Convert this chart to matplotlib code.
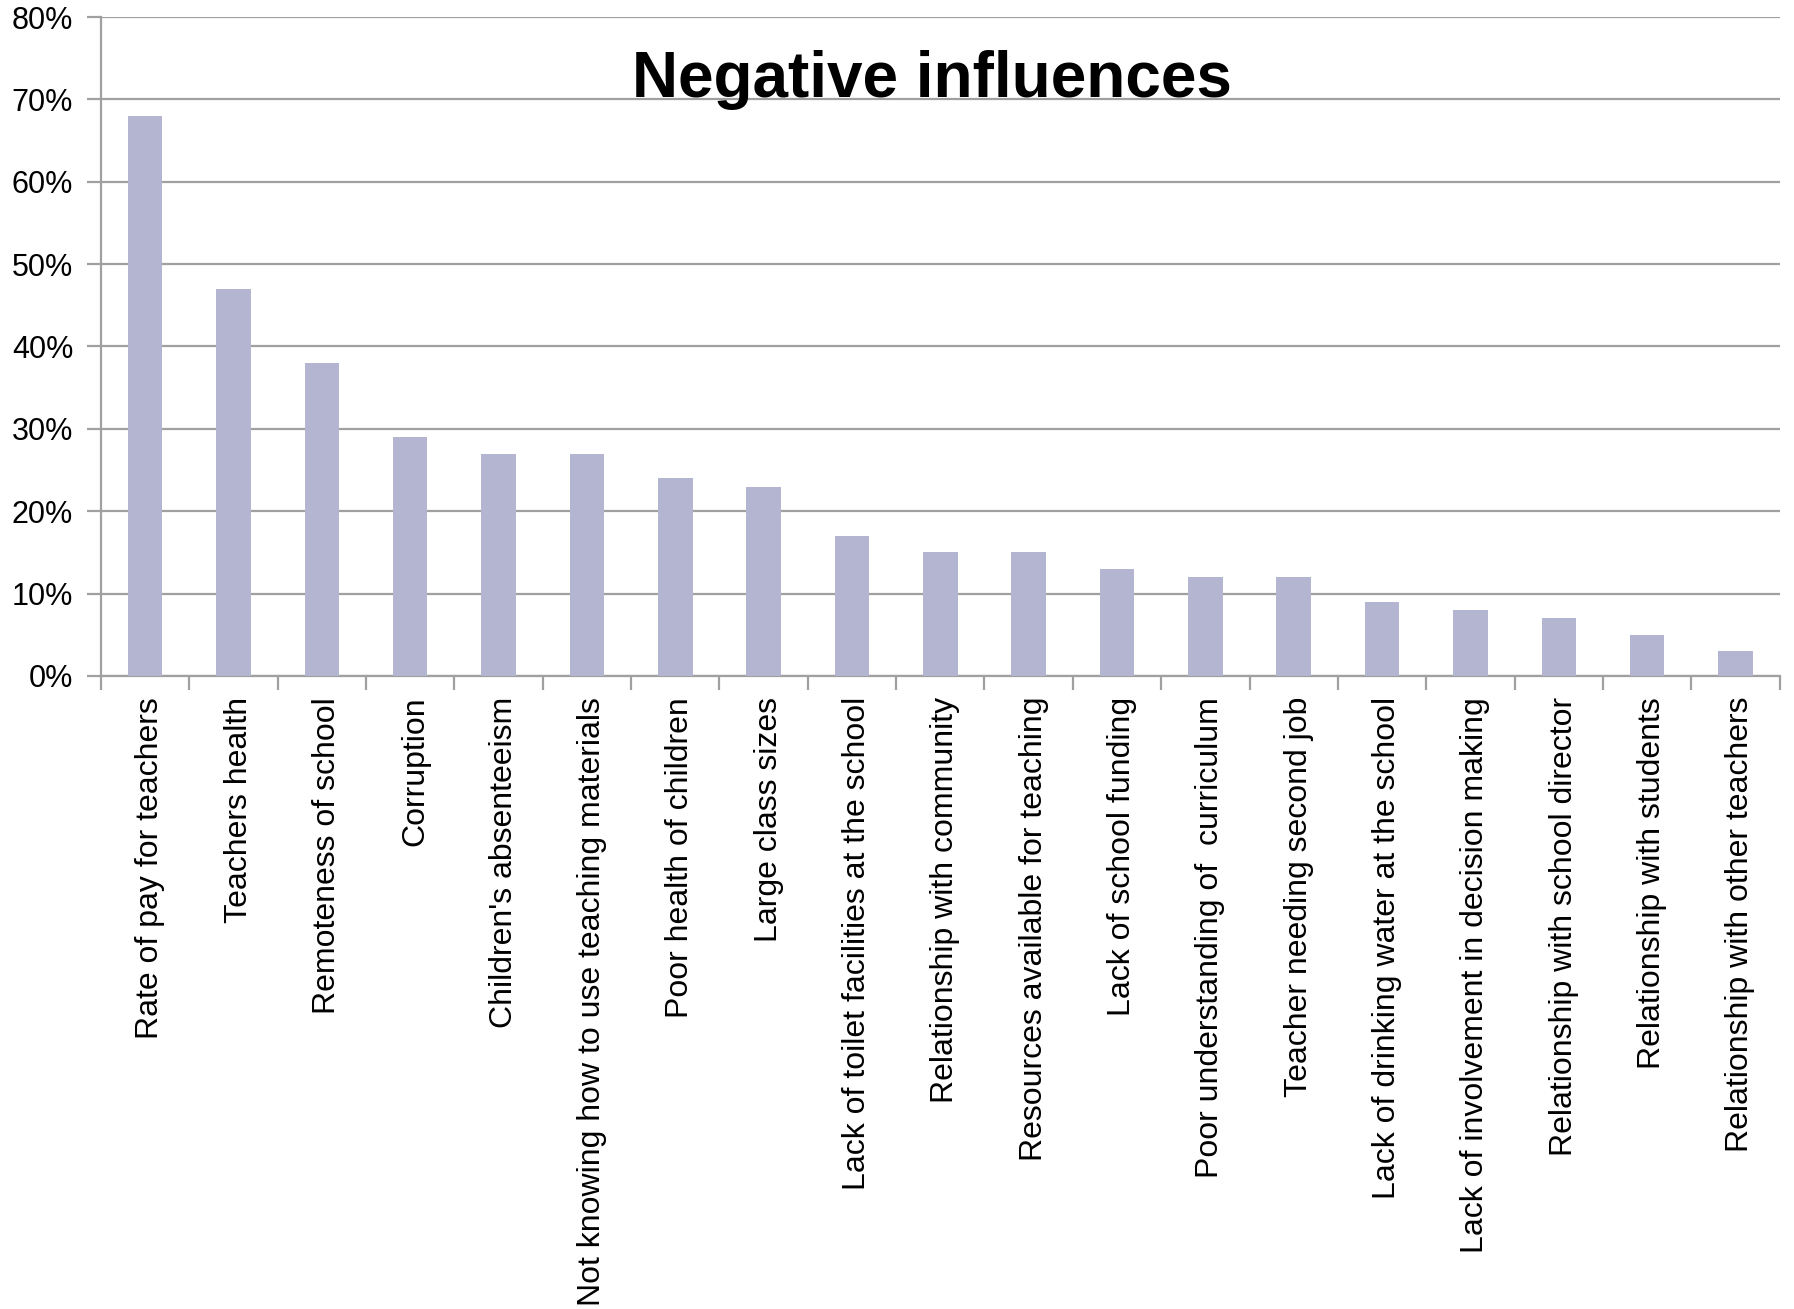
import matplotlib
matplotlib.use("Agg")
import matplotlib.pyplot as plt
import matplotlib.transforms as mtransforms
import numpy as np

plt.rcParams['font.family'] = ['Liberation Sans', 'DejaVu Sans']

categories = [
    "Rate of pay for teachers",
    "Teachers health",
    "Remoteness of school",
    "Corruption",
    "Children's absenteeism",
    "Not knowing how to use teaching materials",
    "Poor health of children",
    "Large class sizes",
    "Lack of toilet facilities at the school",
    "Relationship with community",
    "Resources available for teaching",
    "Lack of school funding",
    "Poor understanding of  curriculum",
    "Teacher needing second job",
    "Lack of drinking water at the school",
    "Lack of involvement in decision making",
    "Relationship with school director",
    "Relationship with students",
    "Relationship with other teachers",
]
values = [68, 47, 38, 29, 27, 27, 24, 23, 17, 15, 15, 13, 12, 12, 9, 8, 7, 5, 3]
yticks = [0, 10, 20, 30, 40, 50, 60, 70, 80]

grey = "#a0a0a0"
fig = plt.figure(figsize=(17.94, 13.09), dpi=100)
ax = fig.add_axes([0.0563, 0.4836, 0.9357, 0.5034])

x = np.arange(len(categories))
ax.bar(x, values, width=0.39, color="#b3b5d1", zorder=3)

ax.set_xlim(-0.5, len(categories) - 0.5)
ax.set_ylim(0, 80)
ax.set_yticks(yticks)
ax.set_yticklabels([f"{v}%" for v in yticks], fontsize=22)
ax.yaxis.grid(True, color=grey, linewidth=1.6, zorder=0)

ax.set_xticks(x)
ax.set_xticklabels(categories, rotation=90, fontsize=23)
ax.tick_params(axis='x', length=0, pad=15)
ax.set_xticks(np.arange(len(categories) + 1) - 0.5, minor=True)
ax.tick_params(axis='x', which='minor', length=10, width=1.6, color=grey)
ax.tick_params(axis='y', length=10, width=1.6, color=grey, pad=10)

# nudge category labels slightly right
shift = mtransforms.ScaledTranslation(5 / 100, 0, fig.dpi_scale_trans)
for lbl in ax.get_xticklabels():
    lbl.set_transform(lbl.get_transform() + shift)

for s in ['top', 'right']:
    ax.spines[s].set_visible(False)
for s in ['left', 'bottom']:
    ax.spines[s].set_color(grey)
    ax.spines[s].set_linewidth(1.6)

ax.text(0.495, 0.905, "Negative influences", transform=ax.transAxes,
        ha='center', va='center', fontsize=46, fontweight='bold', zorder=5)

fig.savefig("out.png", dpi=100)
